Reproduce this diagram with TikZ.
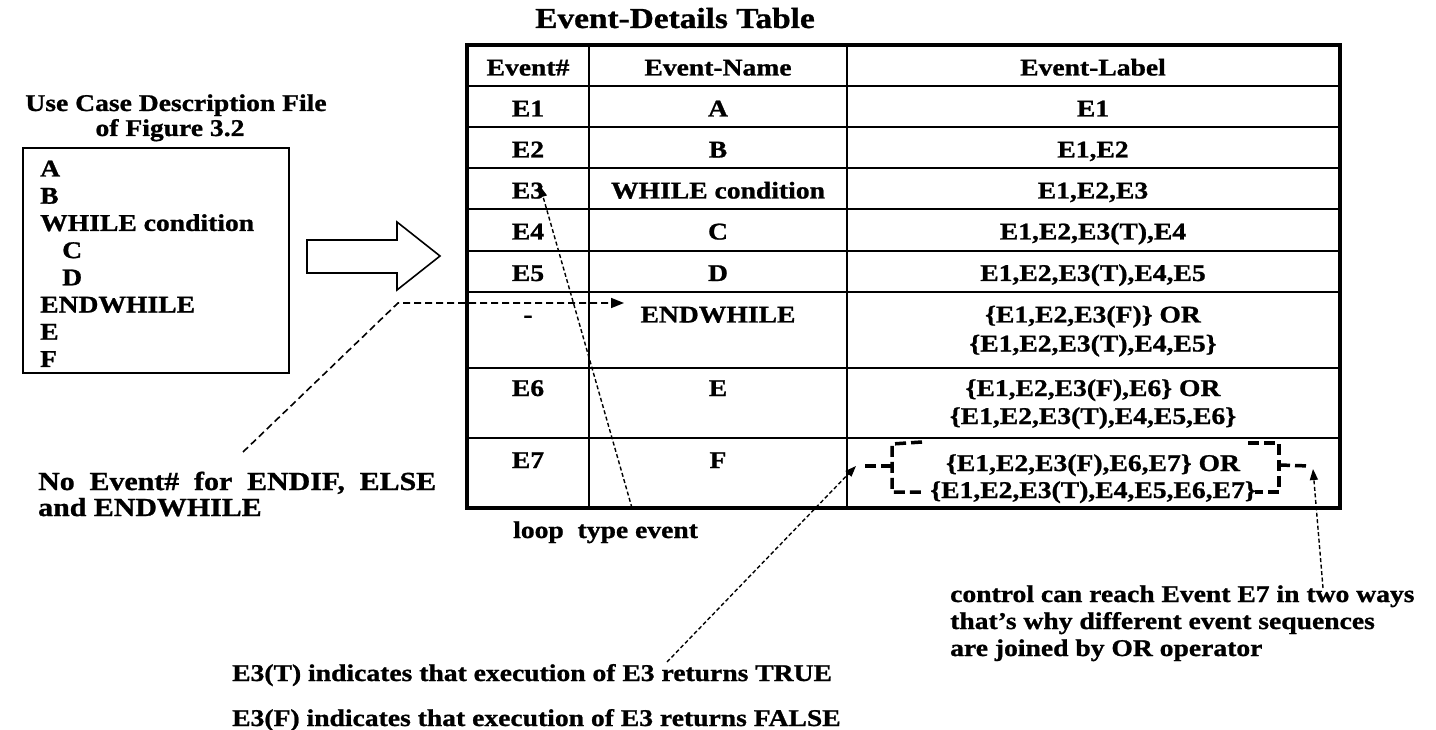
\documentclass[tikz,border=0pt]{standalone}
\usepackage{fontspec}
\setmainfont{Liberation Serif}[FakeStretch=1.15, FakeBold=1]
\usetikzlibrary{arrows.meta}
\begin{document}
\begin{tikzpicture}[x=1pt,y=-1pt,
  txt/.style={font=\bfseries\fontsize{24}{28}\selectfont, inner sep=0pt, anchor=base},
  ltxt/.style={txt, anchor=base west},
  bigtxt/.style={ltxt, font=\bfseries\fontsize{26}{30}\selectfont},
  titletxt/.style={txt, font=\bfseries\fontsize{29}{34}\selectfont},
  grid/.style={line width=2pt},
  frame/.style={line width=4pt},
  note/.style={line width=1.6pt, dash pattern=on 7pt off 4pt,
    -{Triangle[length=13pt,width=10pt]}},
  fine/.style={line width=1.4pt, dash pattern=on 4pt off 2.5pt,
    -{Triangle[length=11pt,width=8pt]}},
  bracket/.style={line width=3.5pt, dash pattern=on 11pt off 5pt}
]
\useasboundingbox (0,0) rectangle (1436,730);
\fill[white] (0,0) rectangle (1436,730);

% ---------- use case description file ----------
\node[txt] (uctitle1) at (176,111) {Use Case Description File};
\node[txt] (uctitle2) at (170,136) {of Figure 3.2};
\draw[line width=2pt] (23,148) rectangle (289,373);
\node[ltxt] (ucA)  at (40,176.5) {A};
\node[ltxt] (ucB)  at (40,203.7) {B};
\node[ltxt] (ucW)  at (40,230.9) {WHILE condition};
\node[ltxt] (ucC)  at (62,258.1) {C};
\node[ltxt] (ucD)  at (62,285.3) {D};
\node[ltxt] (ucEW) at (40,312.5) {ENDWHILE};
\node[ltxt] (ucE)  at (40,339.7) {E};
\node[ltxt] (ucF)  at (40,366.9) {F};

% hollow block arrow
\draw[line width=1.6pt] (307,240) -- (397,240) -- (397,222) -- (440,256)
  -- (397,290) -- (397,273) -- (307,273) -- cycle;

% ---------- event-details table ----------
\node[titletxt] (ttitle) at (675,28) {Event-Details Table};

\foreach \y in {86,127,168,209,251,292,368,438}
  \draw[grid] (467,\y) -- (1340,\y);
\draw[grid] (589,45) -- (589,508);
\draw[grid] (847,45) -- (847,508);
\draw[frame] (467,45) rectangle (1340,508);

\node[txt] (h1) at (528,75.5) {Event\#};
\node[txt] (h2) at (718,75.5) {Event-Name};
\node[txt] (h3) at (1093,75.5) {Event-Label};

\node[txt] (r1a) at (528,116.5) {E1};
\node[txt] (r1b) at (718,116.5) {A};
\node[txt] (r1c) at (1093,116.5) {E1};

\node[txt] (r2a) at (528,157.5) {E2};
\node[txt] (r2b) at (718,157.5) {B};
\node[txt] (r2c) at (1093,157.5) {E1,E2};

\node[txt] (r3a) at (528,198.5) {E3};
\node[txt] (r3b) at (718,198.5) {WHILE condition};
\node[txt] (r3c) at (1093,198.5) {E1,E2,E3};

\node[txt] (r4a) at (528,239.5) {E4};
\node[txt] (r4b) at (718,239.5) {C};
\node[txt] (r4c) at (1093,239.5) {E1,E2,E3(T),E4};

\node[txt] (r5a) at (528,281) {E5};
\node[txt] (r5b) at (718,281) {D};
\node[txt] (r5c) at (1093,281) {E1,E2,E3(T),E4,E5};

\node[txt] (r6a) at (528,322.5) {-};
\node[txt] (r6b) at (718,322.5) {ENDWHILE};
\node[txt] (r6c) at (1093,322.5) {\{E1,E2,E3(F)\} OR};
\node[txt] (r6d) at (1093,351.5) {\{E1,E2,E3(T),E4,E5\}};

\node[txt] (r7a) at (528,396) {E6};
\node[txt] (r7b) at (718,396) {E};
\node[txt] (r7c) at (1093,396) {\{E1,E2,E3(F),E6\} OR};
\node[txt] (r7d) at (1093,424) {\{E1,E2,E3(T),E4,E5,E6\}};

\node[txt] (r8a) at (528,468) {E7};
\node[txt] (r8b) at (718,468) {F};
\node[txt] (r8c) at (1093,471) {\{E1,E2,E3(F),E6,E7\} OR};
\node[txt] (r8d) at (1093,498) {\{E1,E2,E3(T),E4,E5,E6,E7\}};

% dashed bracket round the E7 label
\draw[bracket] (922,442) -- (892,444) -- (892,492) -- (922,492);
\draw[bracket] (892,466) -- (862,466);
\draw[bracket] (1248,443) -- (1279,443) -- (1279,492) -- (1255,492);
\draw[bracket] (1279,465) -- (1310,466);

% ---------- notes ----------
\node[bigtxt] (endnote1) at (38,490) {\makebox[398pt][s]{No Event\# for ENDIF, ELSE}};
\node[bigtxt] (endnote2) at (38,516) {and ENDWHILE};
\node[ltxt] (loopnote) at (513,538) {loop\ \ type event};
\node[ltxt] (ctrl1) at (950,602) {control can reach Event E7 in two ways};
\node[ltxt] (ctrl2) at (950,629) {that’s why different event sequences};
\node[ltxt] (ctrl3) at (950,656) {are joined by OR operator};
\node[ltxt] (tnote) at (232,681) {E3(T) indicates that execution of E3 returns TRUE};
\node[ltxt] (fnote) at (232,726) {E3(F) indicates that execution of E3 returns FALSE};

% ---------- connectors ----------
\coordinate (endstart) at (243,452);
\coordinate (endbend)  at (398,303);
\coordinate (endtip)   at (624,303);
\draw[note] (endstart) -- (endbend) -- (endtip);

\coordinate (loopstart) at (632,508);
\coordinate (looptip)   at (540,186);
\draw[fine] (loopstart) -- (looptip);

\coordinate (tstart) at (667,662);
\coordinate (ttip)   at (856,466);
\draw[fine] (tstart) -- (ttip);

\coordinate (cstart) at (1323,588);
\coordinate (ctip)   at (1313,469);
\draw[fine] (cstart) -- (ctip);
\end{tikzpicture}
\end{document}
